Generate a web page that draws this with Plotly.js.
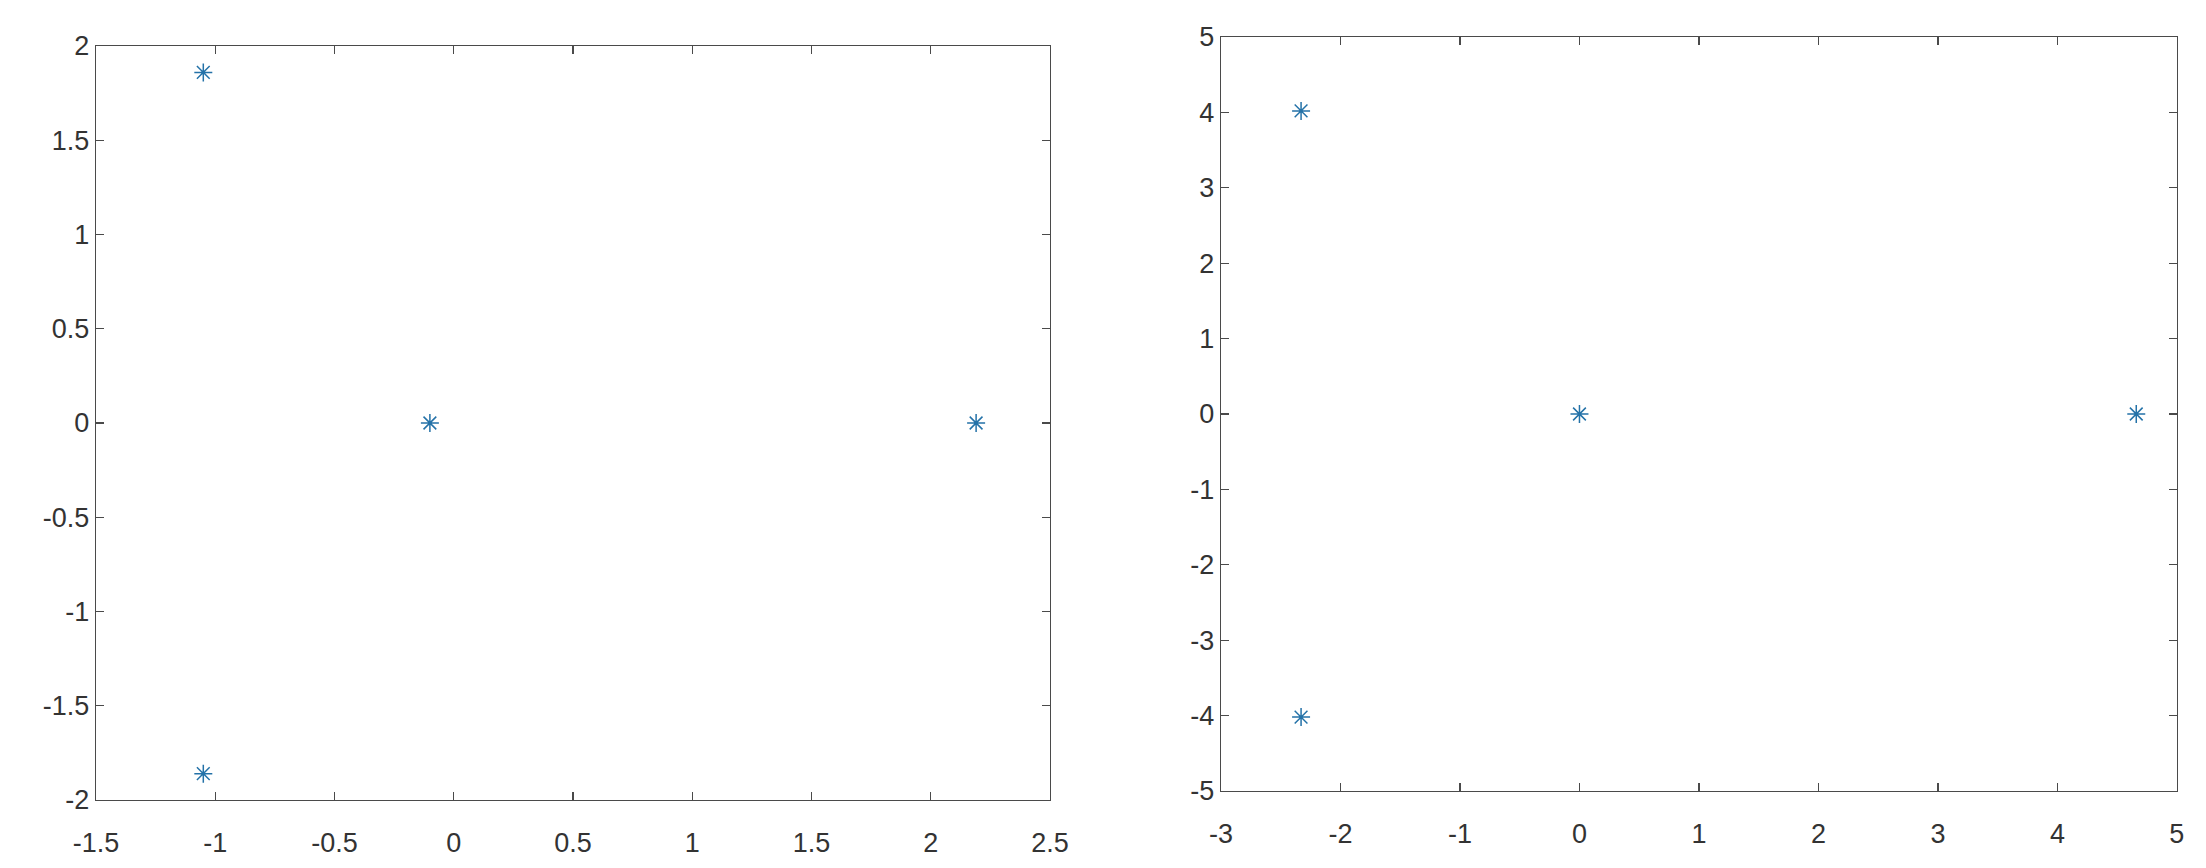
<!DOCTYPE html>
<html>
<head>
<meta charset="utf-8">
<script src="https://cdn.plot.ly/plotly-3.0.1.min.js"></script>
<style>
  html, body { margin: 0; padding: 0; background: #fff; }
  #chart { width: 2206px; height: 868px; }
</style>
</head>
<body>
<div id="chart"></div>
<script>
// left panel points
const leftX = [-1.05, -1.05, -0.1, 2.19];
const leftY = [1.86, -1.86, 0, 0];
// right panel points
const rightX = [-2.33, -2.33, 0, 4.66];
const rightY = [4.02, -4.02, 0, 0];

const leftXTicks = [-1.5, -1, -0.5, 0, 0.5, 1, 1.5, 2, 2.5];
const leftYTicks = [-2, -1.5, -1, -0.5, 0, 0.5, 1, 1.5, 2];
const rightXTicks = [-3, -2, -1, 0, 1, 2, 3, 4, 5];
const rightYTicks = [-5, -4, -3, -2, -1, 0, 1, 2, 3, 4, 5];

const markerColor = "#2472a8";
const axisColor = "#4a4a4a";

function pts(x, y, xa, ya) {
    return {
        x: x, y: y,
        xaxis: xa, yaxis: ya,
        mode: "markers",
        type: "scatter",
        marker: {
            symbol: "asterisk-open",
            size: 15,
            color: markerColor,
            line: { color: markerColor, width: 1.5 }
        },
        showlegend: false,
        hoverinfo: "skip"
    };
}

function axis(domain, range, ticks, standoff) {
    return {
        domain: domain,
        range: range,
        tickvals: ticks,
        ticktext: ticks.map(String),
        showgrid: false,
        zeroline: false,
        showline: true,
        linecolor: axisColor,
        linewidth: 1.3,
        mirror: "ticks",
        ticks: "inside",
        ticklen: 8,
        tickwidth: 1.2,
        tickcolor: axisColor,
        tickfont: { family: "Liberation Sans, Arial, sans-serif", size: 27, color: "#333" },
        ticklabelstandoff: standoff,
        fixedrange: true
    };
}

const layout = {
    width: 2206,
    height: 868,
    margin: { l: 0, r: 0, t: 0, b: 0 },
    paper_bgcolor: "#fff",
    plot_bgcolor: "#fff",
    xaxis: Object.assign(axis([0.0435, 0.476], [-1.5, 2.5], leftXTicks, 18), { anchor: "y" }),
    yaxis: Object.assign(axis([0.0783, 0.947], [-2, 2], leftYTicks, 0), { anchor: "x" }),
    xaxis2: Object.assign(axis([0.5535, 0.9868], [-3, 5], rightXTicks, 18), { anchor: "y2" }),
    yaxis2: Object.assign(axis([0.0887, 0.9574], [-5, 5], rightYTicks, 0), { anchor: "x2" })
};

Plotly.newPlot("chart", [
    pts(leftX, leftY, "x", "y"),
    pts(rightX, rightY, "x2", "y2")
], layout, { displayModeBar: false, staticPlot: true });
</script>
</body>
</html>
